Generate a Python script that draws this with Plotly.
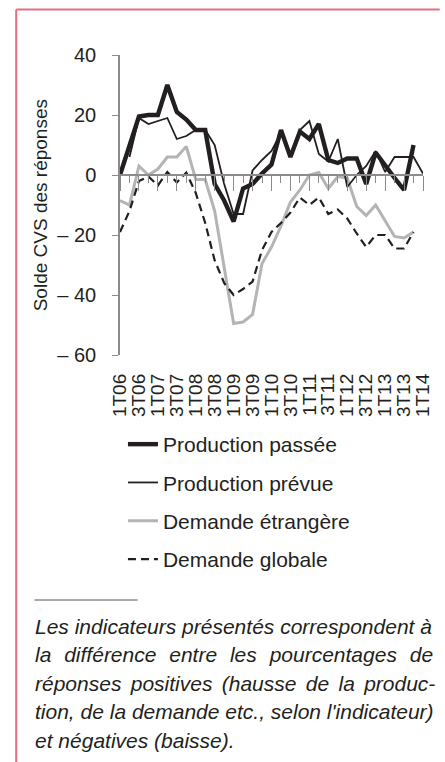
import plotly.graph_objects as go

# ---------------- data ----------------
quarters = ["1T06","2T06","3T06","4T06","1T07","2T07","3T07","4T07",
            "1T08","2T08","3T08","4T08","1T09","2T09","3T09","4T09",
            "1T10","2T10","3T10","4T10","1T11","2T11","3T11","4T11",
            "1T12","2T12","3T12","4T12","1T13","2T13","3T13","4T13",
            "1T14"]

prod_passee = [0, 10, 19.5, 20, 20, 30, 21, 18.5, 15, 15, -3, -8.5, -15.5, -4.5, -3, 0.5,
               3.5, 15, 6, 14.5, 12, 17, 5, 4, 5.5, 5.5, -3, 7.5, 3, -1, -5, 10, None]
prod_prevue = [None, 6, 19, 17, 18, 19, 12, 13, 15, 15, 10, -3, -13, -13, 1.5, 5,
               8, 14, 7, 15, 18, 7, 4.5, 12, -4, 0, 3, 8, 1, 6, 6, 6, 0.5]
dem_etrangere = [-8.5, -10, 3, 0, 2, 6, 6, 9.5, -1.5, -1.5, -12, -31, -49.5, -49, -46.5, -29.5,
                 -24, -17, -9, -5, 0, 0.8, -4.5, -0.5, -1, -10.5, -13.5, -10, -15.5, -20.5, -21, -19, None]
dem_globale = [-19, -12, -2, -0.5, -3.5, 1, -2.5, 0.8, -6, -16, -28.5, -36, -40, -38, -35.5, -25,
               -19, -16, -12.5, -7.5, -10, -7.5, -13, -11.5, -14.5, -19.5, -24, -20, -20, -24.5, -24.5, -19, None]

y_ticks = [40, 20, 0, -20, -40, -60]
y_ticktext = ["40", "20", "0", "\u2013 20", "\u2013 40", "\u2013 60"]

y_title = "Solde CVS des réponses"
G2 = " \u2004"   # widened word gap (justified line)
G3 = " \u2006"
note_lines = [
    "Les indicateurs présentés correspondent à",
    G2.join(["la", "différence", "entre", "les", "pourcentages", "de"]),
    G3.join(["réponses", "positives", "(hausse", "de", "la", "produc-"]),
    "tion, de la demande etc., selon l'indicateur)",
    "et négatives (baisse).",
]

# ---------------- styling ----------------
INK = "#231f20"
GREY_LINE = "#b4b4b4"
AXIS = "#8c8c8c"
PINK = "#e46f80"
FONT = "Liberation Sans"

x = list(range(len(quarters)))
W, H = 445, 762
L, R, T, B = 120, 17, 55, 407
pw, ph = W - L - R, H - T - B

def px_x(p):
    return (p - L) / pw

def px_y(p):
    return (H - B - p) / ph

fig = go.Figure()

series = [
    ("Demande étrangère", dem_etrangere, dict(color=GREY_LINE, width=3), 3),
    ("Demande globale", dem_globale, dict(color=INK, width=2.2, dash="8px,5px"), 4),
    ("Production prévue", prod_prevue, dict(color=INK, width=1.8), 2),
    ("Production passée", prod_passee, dict(color=INK, width=4.4), 1),
]
for name, vals, line, rank in series:
    fig.add_trace(go.Scatter(
        x=x, y=vals, mode="lines", name=name, line=line,
        legendrank=rank, legendgroup=name, connectgaps=False,
    ))

even_idx = x[::2]
odd_idx = x[1::2]

fig.update_layout(
    width=W, height=H,
    margin=dict(l=L, r=R, t=T, b=B),
    paper_bgcolor="white", plot_bgcolor="white",
    font=dict(family=FONT, size=20, color=INK),
    showlegend=True,
    legend=dict(
        x=px_x(123), y=px_y(424), xanchor="left", yanchor="top",
        traceorder="grouped", tracegroupgap=8,
        font=dict(family=FONT, size=21, color=INK),
        bgcolor="rgba(0,0,0,0)", itemwidth=30,
    ),
    xaxis=dict(
        range=[0, len(quarters) - 1], showgrid=False, zeroline=False, showline=False,
        tickmode="array", tickvals=even_idx, ticktext=quarters[::2],
        tickangle=-90, ticks="", ticklabelstandoff=14,
        tickfont=dict(family=FONT, size=19, color=INK),
    ),
    xaxis2=dict(
        overlaying="x", anchor="free", position=0.6, side="bottom",
        range=[0, len(quarters) - 1], showgrid=False, zeroline=False,
        showline=True, linecolor=AXIS, linewidth=1.8,
        tickmode="array", tickvals=even_idx, ticks="outside", ticklen=15,
        tickcolor=AXIS, tickwidth=1.3, showticklabels=False,
    ),
    xaxis3=dict(
        overlaying="x", anchor="free", position=0.6, side="bottom",
        range=[0, len(quarters) - 1], showgrid=False, zeroline=False,
        showline=False,
        tickmode="array", tickvals=odd_idx, ticks="outside", ticklen=7,
        tickcolor=AXIS, tickwidth=1.3, showticklabels=False,
    ),
    yaxis=dict(
        range=[-60, 40], showgrid=False, zeroline=False,
        showline=True, linecolor=AXIS, linewidth=1.5,
        tickmode="array", tickvals=y_ticks, ticktext=y_ticktext,
        ticks="outside", ticklen=6, tickcolor=AXIS, tickwidth=1.3,
        ticklabelstandoff=12,
        tickfont=dict(family=FONT, size=20, color=INK),
    ),
)

# invisible traces so the overlay axes (zero line with ticks) get drawn
fig.add_trace(go.Scatter(x=[0, len(quarters) - 1], y=[0, 0], xaxis="x2", mode="lines",
                         line=dict(width=0), showlegend=False, hoverinfo="skip"))
fig.add_trace(go.Scatter(x=[0, len(quarters) - 1], y=[0, 0], xaxis="x3", mode="lines",
                         line=dict(width=0), showlegend=False, hoverinfo="skip"))

# y-axis title
fig.add_annotation(text=y_title, xref="paper", yref="paper",
                   x=px_x(39), y=0.5, xanchor="center", yanchor="middle",
                   textangle=-90, showarrow=False,
                   font=dict(family=FONT, size=19, color=INK))

# footnote
note_y = [626, 654.5, 683, 711.5, 740]
for txt, yp in zip(note_lines, note_y):
    fig.add_annotation(text="<i>" + txt + "</i>", xref="paper", yref="paper",
                       x=px_x(32), y=px_y(yp), xanchor="left", yanchor="middle",
                       showarrow=False, font=dict(family=FONT, size=21, color=INK))

# separator and frame
fig.add_shape(type="line", xref="paper", yref="paper",
              x0=px_x(33), x1=px_x(138), y0=px_y(600), y1=px_y(600),
              line=dict(color="#555555", width=1))
fig.add_shape(type="line", xref="paper", yref="paper",
              x0=px_x(14.5), x1=px_x(445), y0=px_y(9.5), y1=px_y(9.5),
              line=dict(color=PINK, width=2))
fig.add_shape(type="line", xref="paper", yref="paper",
              x0=px_x(14.5), x1=px_x(14.5), y0=px_y(9.5), y1=px_y(762),
              line=dict(color=PINK, width=2))

fig.write_html("out.html",
               config={"displayModeBar": False},
               post_script="document.body.style.margin='0px';document.body.style.overflow='hidden';")
